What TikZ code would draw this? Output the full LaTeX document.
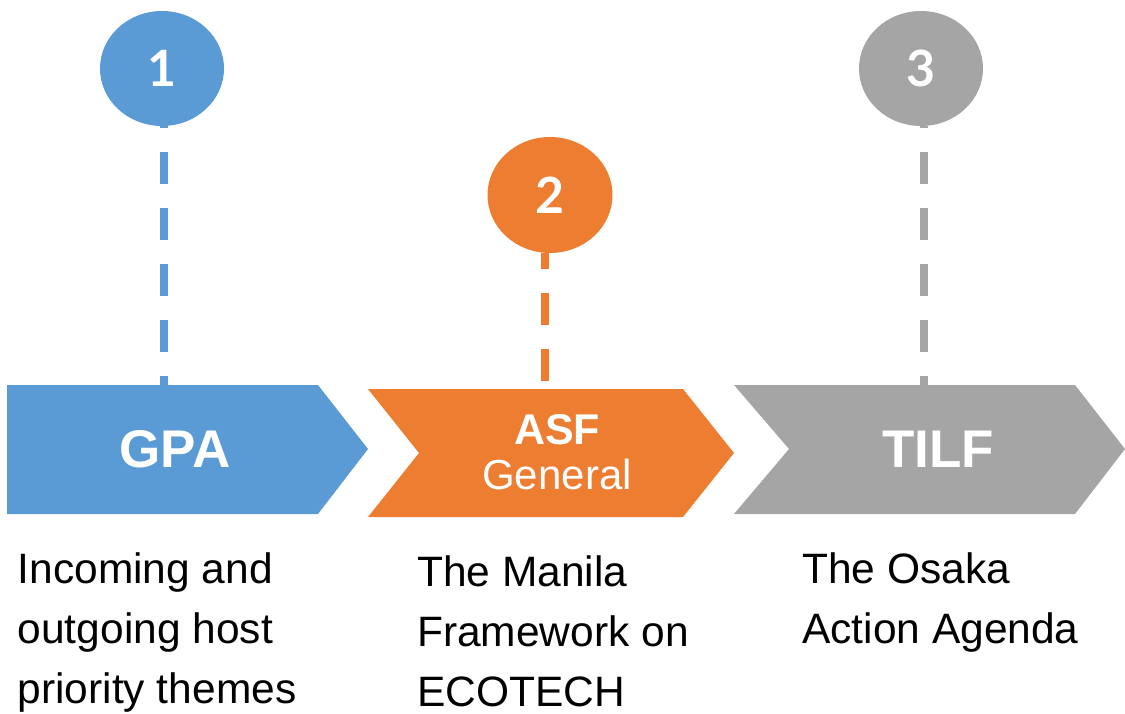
\documentclass[tikz,border=0pt]{standalone}
\usepackage{fontspec}
\setmainfont{Liberation Sans}
\newfontfamily\digitfont{Lato}
\usetikzlibrary{shapes.geometric}
\definecolor{gpablue}{HTML}{5B9BD5}
\definecolor{asforange}{HTML}{ED7D31}
\definecolor{tilfgray}{HTML}{A5A5A5}
\tikzstyle{badge} = [ellipse, minimum width=124pt, minimum height=115pt, inner sep=0pt, text=white, font=\digitfont\bfseries\fontsize{50}{50}\selectfont]
\tikzstyle{stem} = [line width=8.5pt, dash pattern=on 32pt off 24pt]
\tikzstyle{stagetext} = [anchor=base, text=white, font=\bfseries\fontsize{53}{53}\selectfont]
\tikzstyle{caption} = [anchor=base west, align=left, inner sep=0pt, font=\fontsize{42.5}{60}\selectfont]
\begin{document}
\begin{tikzpicture}[x=1pt, y=-1pt]

	\useasboundingbox (0,0) rectangle (1125,714);

	\node (one) [badge, fill=gpablue] at (162,68.5) {1};
	\node (two) [badge, fill=asforange, minimum width=125pt, minimum height=116pt] at (550,195) {2};
	\node (three) [badge, fill=tilfgray] at (921,68.5) {3};

	\coordinate (gpatop) at (164,385);
	\coordinate (asftop) at (545,389);
	\coordinate (tilftop) at (924,385);

	\draw [stem, gpablue, dash phase=30pt] (one.south -| gpatop) -- (gpatop);
	\draw [stem, asforange, dash phase=16pt] (two.south -| asftop) -- (asftop);
	\draw [stem, tilfgray, dash phase=30pt] (three.south -| tilftop) -- (tilftop);

	\fill [gpablue] (7,385) -- (318,385) -- (368,449) -- (318,514) -- (7,514) -- cycle;
	\fill [asforange] (368,389) -- (683,389) -- (734,453) -- (683,517) -- (368,517) -- (419,453) -- cycle;
	\fill [tilfgray] (734,385) -- (1075,385) -- (1125,449) -- (1075,514) -- (734,514) -- (789,449) -- cycle;

	\node (gpa) [stagetext] at (175,467) {GPA};
	\node (asf) [stagetext, font=\bfseries\fontsize{43}{43}\selectfont] at (557,444) {ASF};
	\node (general) [stagetext, font=\fontsize{42}{42}\selectfont] at (557,489) {General};
	\node (tilf) [stagetext] at (938,467) {TILF};

	\node (gpanote) [caption] at (17.5,703) {Incoming and\\outgoing host\\priority themes};
	\node (asfnote) [caption] at (417,706) {The Manila\\Framework on\\ECOTECH};
	\node (tilfnote) [caption] at (802,643) {The Osaka\\Action Agenda};

\end{tikzpicture}
\end{document}
